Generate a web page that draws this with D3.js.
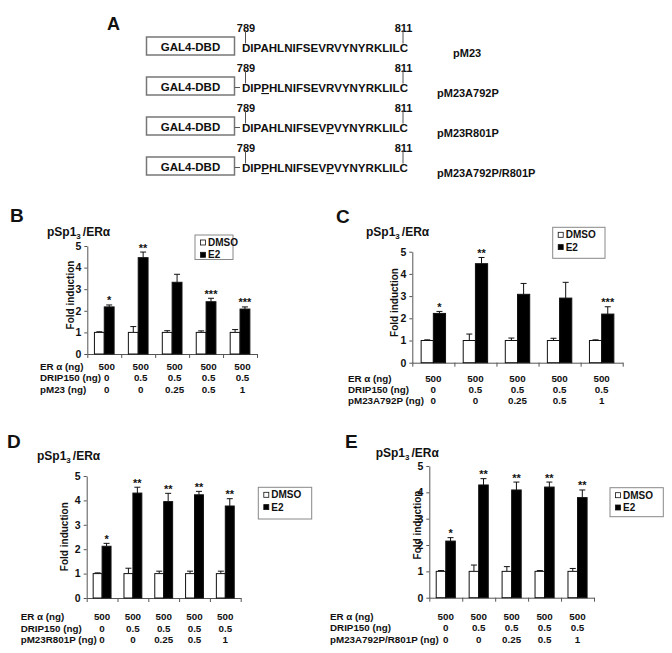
<!DOCTYPE html>
<html>
<head>
<meta charset="utf-8">
<script src="https://cdn.jsdelivr.net/npm/d3@7"></script>
<style>
  body { margin: 0; background: #fff; }
  svg { display: block; }
  text { font-family: "Liberation Sans", Arial, sans-serif; font-weight: bold; fill: #111; }
</style>
</head>
<body>
<svg id="fig" width="672" height="653"></svg>
<script>
// Panel A: GAL4-DBD fusion constructs
const sequences = [
  "DIPAHLNIFSEVRVYNYRKLILC",
  "DIPPHLNIFSEVRVYNYRKLILC",
  "DIPAHLNIFSEVPVYNYRKLILC",
  "DIPPHLNIFSEVPVYNYRKLILC"
];
const mutatedAt = [[], [3], [12], [3, 12]];
const constructNames = ["pM23", "pM23A792P", "pM23R801P", "pM23A792P/R801P"];
const residueStart = "789";
const residueEnd = "811";

// Panels B-E: shared x categories and transfection table
const groups = ["g1", "g2", "g3", "g4", "g5"];
const treatments = ["DMSO", "E2"];
const yTicks = [0, 1, 2, 3, 4, 5];
const erAlphaNg = ["500", "500", "500", "500", "500"];
const drip150Ng = ["0", "0.5", "0.5", "0.5", "0.5"];
const constructNg = ["0", "0", "0.25", "0.5", "1"];

// B: pM23
const dmsoB = [1, 1, 1, 1, 1];
const dmsoErrB = [0.03, 0.27, 0.08, 0.07, 0.13];
const e2B = [2.18, 4.46, 3.32, 2.42, 2.08];
const e2ErrB = [0.09, 0.26, 0.37, 0.16, 0.1];
const starsB = ["*", "**", "", "***", "***"];

// C: pM23A792P
const dmsoC = [1, 1, 1, 1, 1];
const dmsoErrC = [0.03, 0.29, 0.11, 0.1, 0.03];
const e2C = [2.22, 4.46, 3.08, 2.91, 2.19];
const e2ErrC = [0.09, 0.28, 0.49, 0.71, 0.33];
const starsC = ["*", "**", "", "", "***"];

// D: pM23R801P
const dmsoD = [1, 1, 1, 1, 1];
const dmsoErrD = [0.03, 0.22, 0.1, 0.1, 0.1];
const e2D = [2.12, 4.3, 3.95, 4.23, 3.77];
const e2ErrD = [0.12, 0.24, 0.34, 0.14, 0.3];
const starsD = ["*", "**", "**", "**", "**"];

// E: pM23A792P/R801P
const dmsoE = [1, 1, 1, 1, 1];
const dmsoErrE = [0.03, 0.24, 0.18, 0.03, 0.11];
const e2E = [2.15, 4.28, 4.09, 4.2, 3.8];
const e2ErrE = [0.13, 0.24, 0.3, 0.19, 0.29];
const starsE = ["*", "**", "**", "**", "**"];

const svg = d3.select("#fig");

// ---------- panel A ----------
function drawPanelA() {
  svg.append("text").attr("x", 107).attr("y", 30).attr("font-size", 18).text("A");

  const rowY = d3.scaleLinear().domain([0, sequences.length - 1]).range([46, 166]);

  sequences.forEach((seq, i) => {
    const cy = rowY(i);
    const base = cy + 6;
    const g = svg.append("g");

    g.append("rect")
      .attr("x", 146.5).attr("y", cy - 9).attr("width", 88).attr("height", 18)
      .attr("fill", "none").attr("stroke", "#777").attr("stroke-width", 1.5);
    g.append("text")
      .attr("x", 190.5).attr("y", cy + 4.5)
      .attr("text-anchor", "middle").attr("font-size", 11.5)
      .text("GAL4-DBD");

    if (i > 0) {
      g.append("line")
        .attr("x1", 234.5).attr("x2", 240).attr("y1", cy + 1.5).attr("y2", cy + 1.5)
        .attr("stroke", "#555").attr("stroke-width", 1);
    }

    const t = g.append("text")
      .attr("x", 242).attr("y", base)
      .attr("font-size", 11)
      .attr("textLength", 166)
      .attr("lengthAdjust", "spacingAndGlyphs");
    seq.split("").forEach((ch, k) => {
      const s = t.append("tspan").text(ch);
      if (mutatedAt[i].includes(k)) s.style("text-decoration", "underline");
    });

    [[245.5, residueStart], [403, residueEnd]].forEach(([x, lab]) => {
      g.append("text")
        .attr("x", x + 0.5).attr("y", base - 20)
        .attr("text-anchor", "middle").attr("font-size", 11)
        .text(lab);
      g.append("line")
        .attr("x1", x).attr("x2", x).attr("y1", base - 22).attr("y2", base - 8.5)
        .attr("stroke", "#555").attr("stroke-width", 1);
    });

    g.append("text")
      .attr("x", i === 0 ? 453 : 437).attr("y", cy + 10.5)
      .attr("font-size", 11)
      .text(constructNames[i]);
  });
}

// ---------- panels B-E ----------
const panels = [
  { letter: "B", lx: 10, ly: 222, tx: 47, ty: 236, ax: 70, ay: 295,
    x0: 87.3, x1: 257, yZero: 354, yFive: 246,
    legend: { x: 195, y: 235, w: 38, h: 24.5 },
    tableX: 40, tableY: 370, rowGap: 11.3, valDx: 2.5,
    constructLabel: "pM23 (ng)",
    dmso: dmsoB, dmsoErr: dmsoErrB, e2: e2B, e2Err: e2ErrB, stars: starsB },
  { letter: "C", lx: 336, ly: 223, tx: 366, ty: 236, ax: 394.3, ay: 302.5,
    x0: 412.3, x1: 622.7, yZero: 362.7, yFive: 251.7,
    legend: { x: 552.7, y: 227.3, w: 52.3, h: 31 },
    tableX: 348, tableY: 381.7, rowGap: 10.9, valDx: 0,
    constructLabel: "pM23A792P (ng)",
    dmso: dmsoC, dmsoErr: dmsoErrC, e2: e2C, e2Err: e2ErrC, stars: starsC },
  { letter: "D", lx: 7, ly: 448, tx: 37, ty: 459.5, ax: 64.3, ay: 536.7,
    x0: 86.7, x1: 240.7, yZero: 598, yFive: 476,
    legend: { x: 258.3, y: 487.3, w: 53.4, h: 31.7 },
    tableX: 20.7, tableY: 620, rowGap: 11.7, valDx: 0,
    constructLabel: "pM23R801P (ng)",
    dmso: dmsoD, dmsoErr: dmsoErrD, e2: e2D, e2Err: e2ErrD, stars: starsD },
  { letter: "E", lx: 345, ly: 448, tx: 375.7, ty: 457, ax: 417.3, ay: 525,
    x0: 429.3, x1: 594, yZero: 597.7, yFive: 466,
    legend: { x: 610, y: 487.7, w: 53.3, h: 29 },
    tableX: 330, tableY: 619.5, rowGap: 11.6, valDx: 0,
    constructLabel: "pM23A792P/R801P (ng)",
    dmso: dmsoE, dmsoErr: dmsoErrE, e2: e2E, e2Err: e2ErrE, stars: starsE }
];

function drawBarPanel(p) {
  const g = svg.append("g");

  const x = d3.scaleBand().domain(groups).range([p.x0, p.x1]);
  const bw = x.bandwidth();
  const xs = d3.scaleBand().domain(treatments).range([bw * 0.21, bw * 0.79]);
  const y = d3.scaleLinear().domain([0, 5]).range([p.yZero, p.yFive]);
  const xEdge = d3.scaleLinear().domain([0, groups.length]).range([p.x0, p.x1]);

  // letter, title, axis title
  g.append("text").attr("x", p.lx).attr("y", p.ly).attr("font-size", 19).text(p.letter);

  const title = g.append("text").attr("x", p.tx).attr("y", p.ty).attr("font-size", 12);
  title.append("tspan").text("pSp1");
  title.append("tspan").attr("dy", 3).attr("font-size", 8).text("3");
  title.append("tspan").attr("dy", -3).attr("dx", 2).text("/ERα");

  g.append("text")
    .attr("transform", `translate(${p.ax},${p.ay}) rotate(-90)`)
    .attr("text-anchor", "middle").attr("dy", "0.35em")
    .attr("font-size", 10)
    .text("Fold induction");

  // axes
  const yAxis = g.append("g")
    .attr("transform", `translate(${p.x0},0)`)
    .call(d3.axisLeft(y).tickValues(yTicks).tickFormat(d3.format("d"))
      .tickSize(3).tickSizeOuter(0).tickPadding(3));
  yAxis.selectAll("path, line").attr("stroke", "#555");
  yAxis.selectAll("text")
    .attr("font-size", 10.5).attr("fill", "#111")
    .style("font-family", "Liberation Sans, Arial, sans-serif").style("font-weight", "bold");

  const xAxis = g.append("g")
    .attr("transform", `translate(0,${p.yZero})`)
    .call(d3.axisBottom(xEdge).tickValues(d3.range(groups.length + 1))
      .tickSize(4).tickSizeOuter(0).tickFormat(""));
  xAxis.selectAll("path, line").attr("stroke", "#555");

  // bars
  const rows = [];
  groups.forEach((grp, i) => {
    rows.push({ grp, t: "DMSO", v: p.dmso[i], e: p.dmsoErr[i], star: "" });
    rows.push({ grp, t: "E2", v: p.e2[i], e: p.e2Err[i], star: p.stars[i] });
  });

  const cx = d => x(d.grp) + xs(d.t) + xs.bandwidth() / 2;

  g.selectAll(".err")
    .data(rows)
    .join("path")
    .attr("d", d => `M${cx(d)},${y(d.v)}V${y(d.v + d.e)}M${cx(d) - 3},${y(d.v + d.e)}H${cx(d) + 3}`)
    .attr("stroke", "#111").attr("stroke-width", 1).attr("fill", "none");

  g.selectAll(".bar")
    .data(rows)
    .join("rect")
    .attr("x", d => x(d.grp) + xs(d.t))
    .attr("y", d => y(d.v))
    .attr("width", xs.bandwidth())
    .attr("height", d => y(0) - y(d.v))
    .attr("fill", d => d.t === "E2" ? "#000" : "#fff")
    .attr("stroke", "#111")
    .attr("stroke-width", 1);

  g.selectAll(".star")
    .data(rows.filter(d => d.star))
    .join("text")
    .attr("x", cx)
    .attr("y", d => y(d.v + d.e) - 0.5)
    .attr("text-anchor", "middle")
    .attr("font-size", 11)
    .text(d => d.star);

  // legend
  const L = p.legend;
  g.append("rect")
    .attr("x", L.x).attr("y", L.y).attr("width", L.w).attr("height", L.h)
    .attr("fill", "#fff").attr("stroke", "#888").attr("stroke-width", 1);
  treatments.forEach((t, i) => {
    const ry = L.y + 7.5 + i * 12.3;
    g.append("rect")
      .attr("x", L.x + 5.5).attr("y", ry - 2.5).attr("width", 5).attr("height", 5)
      .attr("fill", t === "E2" ? "#000" : "#fff").attr("stroke", "#111").attr("stroke-width", 0.8);
    g.append("text")
      .attr("x", L.x + 13).attr("y", ry + 3.6)
      .attr("font-size", 10)
      .text(t);
  });

  // transfection table
  const tableRows = [
    ["ER α (ng)", erAlphaNg],
    ["DRIP150 (ng)", drip150Ng],
    [p.constructLabel, constructNg]
  ];
  tableRows.forEach(([label, vals], r) => {
    const ty = p.tableY + r * p.rowGap;
    g.append("text").attr("x", p.tableX).attr("y", ty).attr("font-size", 9.8).text(label);
    groups.forEach((grp, i) => {
      g.append("text")
        .attr("x", x(grp) + bw / 2 + p.valDx).attr("y", ty)
        .attr("text-anchor", "middle").attr("font-size", 9.8)
        .text(vals[i]);
    });
  });
}

drawPanelA();
panels.forEach(drawBarPanel);
</script>
</body>
</html>
